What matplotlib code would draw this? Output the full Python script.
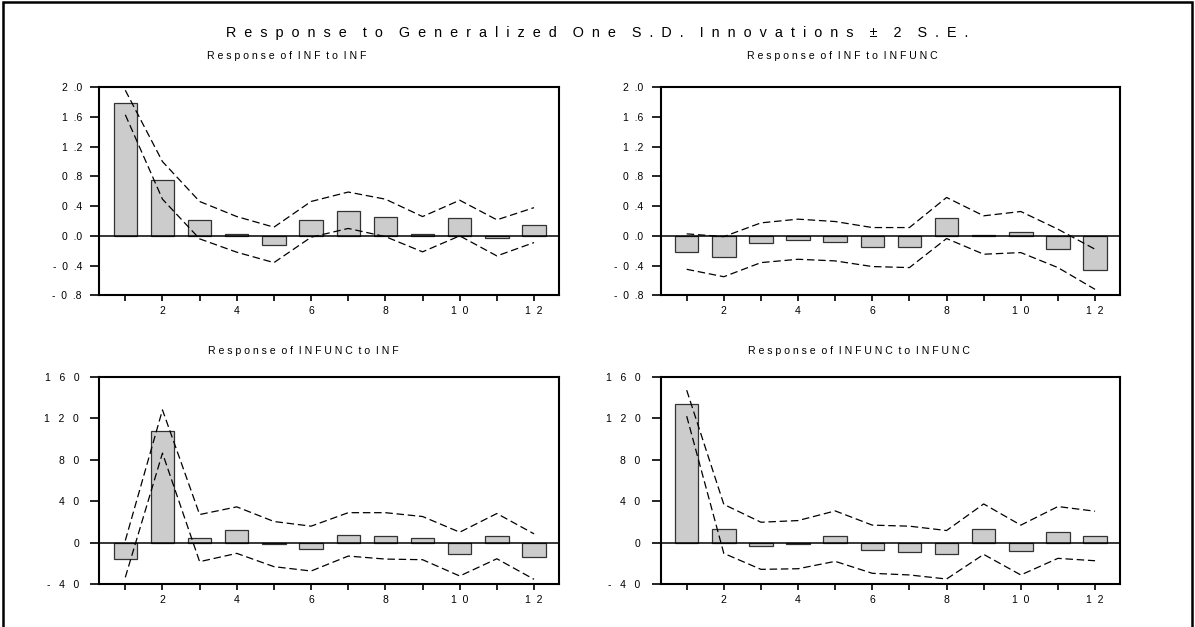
import matplotlib
matplotlib.use("Agg")
import matplotlib.pyplot as plt
from matplotlib.patches import Rectangle
from matplotlib.ticker import FuncFormatter

plt.rcParams['font.family'] = ['Liberation Sans', 'DejaVu Sans']

periods = list(range(1, 13))

# Response of INF to INF
inf_inf = [1.79, 0.746, 0.22, 0.027, -0.12, 0.22, 0.337, 0.25, 0.027, 0.234, -0.03, 0.144]
inf_inf_up = [1.96, 1.00, 0.463, 0.26, 0.117, 0.463, 0.59, 0.494, 0.26, 0.48, 0.216, 0.38]
inf_inf_lo = [1.63, 0.494, -0.04, -0.22, -0.36, -0.018, 0.10, -0.01, -0.215, 0.0, -0.27, -0.09]

# Response of INF to INFUNC
inf_infunc = [-0.22, -0.283, -0.094, -0.05, -0.08, -0.153, -0.153, 0.234, 0.01, 0.05, -0.18, -0.46]
inf_infunc_up = [0.027, -0.01, 0.175, 0.225, 0.193, 0.112, 0.112, 0.517, 0.27, 0.328, 0.09, -0.18]
inf_infunc_lo = [-0.45, -0.55, -0.36, -0.315, -0.337, -0.413, -0.427, -0.036, -0.247, -0.225, -0.427, -0.72]

# Response of INFUNC to INF
infunc_inf = [-15.4, 107.8, 4.8, 12.2, -1.6, -6.1, 7.7, 6.7, 4.8, -10.6, 6.7, -13.4]
infunc_inf_up = [2.2, 128, 27.2, 34.6, 20.5, 16, 29, 29, 25.3, 10.2, 28.2, 8.6]
infunc_inf_lo = [-33.3, 86.4, -18.2, -10.2, -23, -27.2, -12.8, -15.7, -16.3, -32, -15.4, -35.2]

# Response of INFUNC to INFUNC
infunc_infunc = [133.8, 12.8, -3.2, -1.6, 6.7, -7, -8.6, -11.2, 12.8, -8, 10.2, 6.7]
infunc_infunc_up = [147, 37, 19.8, 21.4, 30.7, 17, 16, 11.8, 37.4, 17, 34.9, 30.4]
infunc_infunc_lo = [122, -10.2, -25.6, -25, -17.9, -29.4, -31, -34.9, -11.2, -31, -15, -17.3]

main_title = "Response to Generalized One S.D. Innovations \u00b1 2 S.E."
titles = ["Response of INF to INF", "Response of INF to INFUNC",
          "Response of INFUNC to INF", "Response of INFUNC to INFUNC"]
top_yticks = [-0.8, -0.4, 0.0, 0.4, 0.8, 1.2, 1.6, 2.0]
bot_yticks = [-40, 0, 40, 80, 120, 160]


def spaced(s, gap=" ", wgap="  "):
    words = s.split(" ")
    return wgap.join(gap.join(w) for w in words)


def tick_str(s, gap="  "):
    out = ""
    for i, c in enumerate(s):
        out += c
        if i < len(s) - 1 and c != ".":
            out += gap
    return out


fig = plt.figure(figsize=(11.95, 6.27), dpi=100)
fig.patches.append(Rectangle((3 / 1195, -0.02), 1189 / 1195, 1 - 2 / 627 + 0.02,
                             transform=fig.transFigure, fill=False,
                             edgecolor='black', linewidth=1.8, clip_on=False))

W, H = 1195, 627
boxes = [(99.3, 87.3, 559.3, 295.3), (660.7, 87.3, 1120.3, 295.3),
         (99.3, 376.7, 559.3, 584.3), (660.7, 376.7, 1120.3, 584.3)]
data = [(inf_inf, inf_inf_up, inf_inf_lo), (inf_infunc, inf_infunc_up, inf_infunc_lo),
        (infunc_inf, infunc_inf_up, infunc_inf_lo), (infunc_infunc, infunc_infunc_up, infunc_infunc_lo)]
title_pos = [(207, 56), (747, 56), (208, 351), (748, 351)]

for k, (box, (vals, up, lo)) in enumerate(zip(boxes, data)):
    x0, y0, x1, y1 = box
    ax = fig.add_axes([x0 / W, 1 - y1 / H, (x1 - x0) / W, (y1 - y0) / H])
    ax.bar(periods, vals, width=0.63, color='#cccccc', edgecolor='#333333', linewidth=0.9, zorder=2)
    ax.axhline(0, color='black', linewidth=1.1, zorder=3)
    ax.plot(periods, up, color='black', linestyle=(0, (6, 3)), linewidth=0.9, zorder=4)
    ax.plot(periods, lo, color='black', linestyle=(0, (6, 3)), linewidth=0.9, zorder=4)
    ax.set_xlim(0.3, 12.68)
    if k < 2:
        ax.set_ylim(-0.8, 2.0)
        ax.set_yticks(top_yticks)
        ax.yaxis.set_major_formatter(FuncFormatter(lambda v, p: tick_str(f"{v:.1f}")))
        ypad = 6
    else:
        ax.set_ylim(-40, 160)
        ax.set_yticks(bot_yticks)
        ax.yaxis.set_major_formatter(FuncFormatter(lambda v, p: tick_str(f"{v:.0f}", "   ")))
        ypad = 8
    ax.set_xticks(periods)
    ax.set_xticklabels([tick_str(str(p)) if p % 2 == 0 else "" for p in periods])
    for sp in ax.spines.values():
        sp.set_linewidth(1.5)
    ax.tick_params(axis='y', direction='out', length=6.5, width=1.2, labelsize=7.5, pad=ypad, colors='black')
    ax.tick_params(axis='x', direction='out', length=4, width=1.2, labelsize=7.5, pad=4, colors='black')
    tx, ty = title_pos[k]
    fig.text(tx / W, 1 - ty / H, spaced(titles[k]), ha='left', va='center', fontsize=7.6)

fig.text(597 / W, 1 - 33 / H, spaced(main_title, gap="  ", wgap="    "), ha='center', va='center', fontsize=10.4)

fig.savefig("out.png", dpi=100)
